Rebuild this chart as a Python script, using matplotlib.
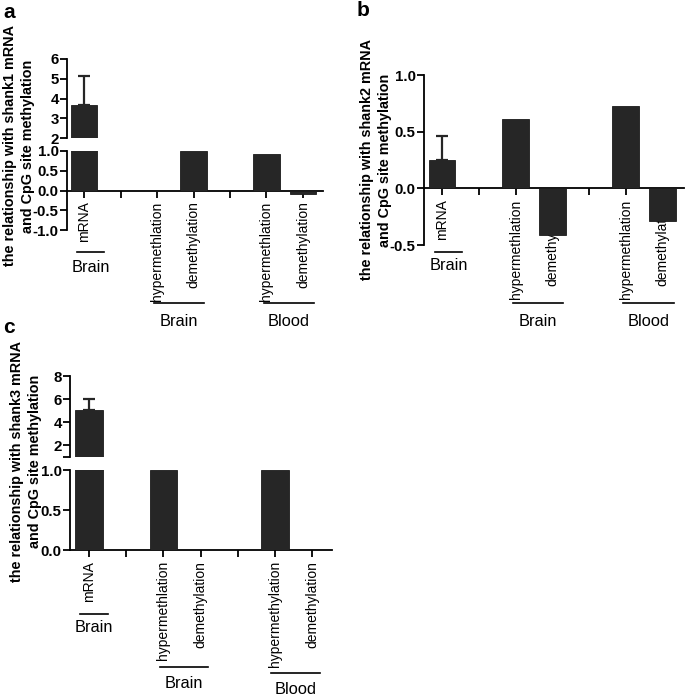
import numpy as np
import matplotlib
matplotlib.use('Agg')
import matplotlib.pyplot as plt
from matplotlib.lines import Line2D
from matplotlib.transforms import blended_transform_factory

# --- data ---
pos = [0, 2, 3, 5, 6]  # category slots (1 and 4 are spacers)
ticks = [0, 1, 2, 3, 4, 5, 6]
labels_ab = ['mRNA', '', 'hypermethlation', 'demethylation', '', 'hypermethlation', 'demethylation']
labels_c = ['mRNA', '', 'hypermethlation', 'demethylation', '', 'hypermethylation', 'demethylation']

shank1 = [3.67, 0.0, 1.0, 0.93, -0.1]
shank1_err = 1.48
shank2 = [0.25, 0.61, -0.41, 0.73, -0.29]
shank2_err = 0.21
shank3 = [5.05, 1.0, 0.0, 1.0, 0.0]
shank3_err = 0.95

groups = [('Brain', 0, 0), ('Brain', 2, 3), ('Blood', 5, 6)]

ylab1 = 'the relationship with shank1 mRNA\nand CpG site methylation'
ylab2 = 'the relationship with shank2 mRNA\nand CpG site methylation'
ylab3 = 'the relationship with shank3 mRNA\nand CpG site methylation'

plt.rcParams['font.family'] = ['Liberation Sans', 'DejaVu Sans']
W, H = 685, 698
fig = plt.figure(figsize=(W / 100, H / 100), dpi=100)
BAR = '#262626'
LW = 1.3


def box(x0, y0, x1, y1):
    return [x0 / W, 1 - y1 / H, (x1 - x0) / W, (y1 - y0) / H]


def style(ax, xlim, yt, ytl=None, xtl=None):
    ax.set_xlim(*xlim)
    for s in ['top', 'right']:
        ax.spines[s].set_visible(False)
    ax.spines['left'].set_linewidth(LW)
    if xtl is not None:
        ax.spines['bottom'].set_position(('data', 0))
        ax.spines['bottom'].set_linewidth(LW)
        ax.set_xticks(ticks)
        ax.set_xticklabels(xtl, rotation=90, va='top', fontsize=10)
        ax.tick_params(axis='x', length=5, width=LW, pad=3)
    else:
        ax.spines['bottom'].set_visible(False)
        ax.set_xticks([])
    ax.set_yticks(yt)
    if ytl is None:
        ytl = [str(v) for v in yt]
    ax.set_yticklabels(ytl, fontweight='bold', fontsize=10.8)
    ax.tick_params(axis='y', length=5, width=LW, pad=1)


def bars(ax, vals, err=None):
    ax.bar(pos, vals, width=0.73, color=BAR, edgecolor='#1a1a1a', linewidth=0.6, zorder=3)
    if err is not None:
        ax.errorbar([pos[0]], [vals[0]], yerr=[[0], [err]], fmt='none', ecolor=BAR,
                    elinewidth=1.6, capsize=4, capthick=1.6, zorder=3.5)


def group_labels(ax, y_lines, y_texts, single=(-0.2, 0.55), double=(-0.08, 0.3)):
    tr = blended_transform_factory(ax.transData, fig.transFigure)
    for (name, p0, p1), yl, yt in zip(groups, y_lines, y_texts):
        if p0 == p1:
            a, b = p0 + single[0], p1 + single[1]
        else:
            a, b = p0 + double[0], p1 + double[1]
        fig.add_artist(Line2D([a, b], [1 - yl / H] * 2, transform=tr, color='black', lw=1.2))
        fig.text((a + b) / 2, 1 - yt / H, name, transform=tr, ha='center', va='center',
                 fontsize=11.8)


def ylabel(x, y, text):
    fig.text(x / W, 1 - y / H, text, rotation=90, ha='center', va='center',
             fontsize=10.4, fontweight='bold', multialignment='center', linespacing=1.3)


# ---------- panel a (broken axis) ----------
xl_a = (-0.47, 6.55)
a_up = fig.add_axes(box(67, 59, 323, 138))
bars(a_up, shank1, shank1_err)
a_up.set_ylim(2, 6)
style(a_up, xl_a, [2, 3, 4, 5, 6])

a_lo = fig.add_axes(box(67, 151, 323, 230))
bars(a_lo, shank1)
a_lo.set_ylim(-1, 1)
style(a_lo, xl_a, [-1, -0.5, 0, 0.5, 1], ['-1.0', '-0.5', '0.0', '0.5', '1.0'], labels_ab)
group_labels(a_lo, [252, 303, 303], [267, 322, 322])
ylabel(19, 146, ylab1)
fig.text(3 / W, 1 - 12 / H, 'a', fontsize=15, fontweight='bold', va='center')

# ---------- panel b ----------
xl_b = (-0.49, 6.58)
b_ax = fig.add_axes(box(424, 75, 684, 245))
bars(b_ax, shank2, shank2_err)
b_ax.set_ylim(-0.5, 1.0)
style(b_ax, xl_b, [-0.5, 0, 0.5, 1.0], ['-0.5', '0.0', '0.5', '1.0'], labels_ab)
group_labels(b_ax, [252, 303, 303], [265, 322, 322])
ylabel(376, 160, ylab2)
fig.text(357 / W, 1 - 11 / H, 'b', fontsize=15, fontweight='bold', va='center')

# ---------- panel c (broken axis) ----------
xl_c = (-0.51, 6.53)
c_up = fig.add_axes(box(70, 376, 332, 457))
bars(c_up, shank3, shank3_err)
c_up.set_ylim(1, 8)
style(c_up, xl_c, [1, 2, 4, 6, 8], ['', '2', '4', '6', '8'])

c_lo = fig.add_axes(box(70, 470, 332, 550))
bars(c_lo, shank3)
c_lo.set_ylim(0, 1)
style(c_lo, xl_c, [0, 0.5, 1.0], ['0.0', '0.5', '1.0'], labels_c)
group_labels(c_lo, [614, 667, 673], [628, 683, 690], single=(-0.24, 0.51), double=(-0.1, 0.2))
ylabel(26, 461, ylab3)
fig.text(3 / W, 1 - 328 / H, 'c', fontsize=15, fontweight='bold', va='center')

fig.savefig('out.png', dpi=100)
